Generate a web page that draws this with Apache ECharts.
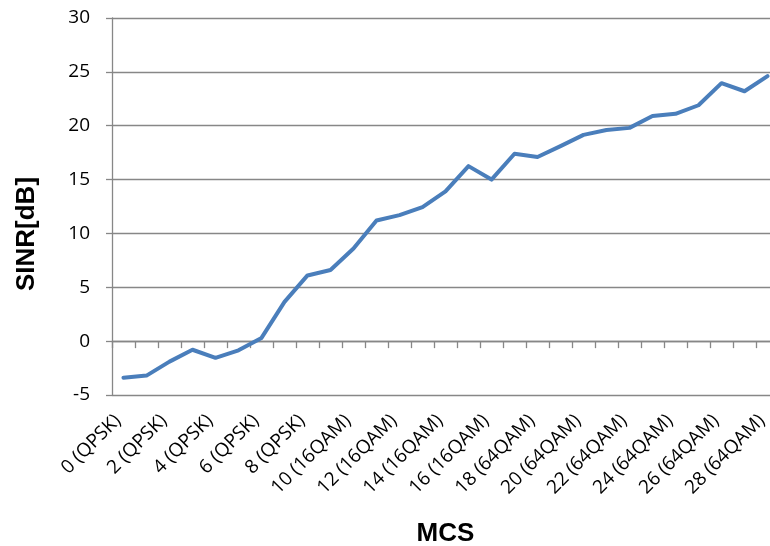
<!DOCTYPE html>
<html>
<head>
<meta charset="utf-8">
<title>SINR vs MCS</title>
<script src="https://cdn.jsdelivr.net/npm/echarts@6/dist/echarts.min.js"></script>
<style>
  html, body { margin: 0; padding: 0; background: #ffffff; }
  #chart { width: 770px; height: 546px; }
</style>
</head>
<body>
<div id="chart"></div>
<script>
// MCS index with modulation scheme
const mcsIndex = [0, 1, 2, 3, 4, 5, 6, 7, 8, 9, 10, 11, 12, 13, 14, 15, 16, 17, 18, 19, 20, 21, 22, 23, 24, 25, 26, 27, 28];
const modulation = ['QPSK', 'QPSK', 'QPSK', 'QPSK', 'QPSK', 'QPSK', 'QPSK', 'QPSK', 'QPSK', 'QPSK',
  '16QAM', '16QAM', '16QAM', '16QAM', '16QAM', '16QAM', '16QAM',
  '64QAM', '64QAM', '64QAM', '64QAM', '64QAM', '64QAM', '64QAM', '64QAM', '64QAM', '64QAM', '64QAM', '64QAM'];
const categories = mcsIndex.map((m, i) => m + ' (' + modulation[i] + ')');

// Required SINR per MCS [dB]
const sinr = [-3.4, -3.2, -1.9, -0.8, -1.55, -0.85, 0.3, 3.65, 6.1, 6.6,
  8.6, 11.2, 11.7, 12.45, 13.9, 16.25, 15.0, 17.4, 17.1, 18.1,
  19.15, 19.6, 19.8, 20.9, 21.1, 21.9, 23.95, 23.2, 24.6];

// Value axis ticks
const yMin = -5, yMax = 30, yStep = 5;

const gray = '#878787';
const labelFont = '"Open Sans", sans-serif';
const titleFont = '"Liberation Sans", Arial, sans-serif';

const chart = echarts.init(document.getElementById('chart'), null, { renderer: 'canvas' });

chart.setOption({
  animation: false,
  backgroundColor: '#ffffff',
  grid: { left: 112, top: 18, right: -9, bottom: 151, outerBoundsMode: 'none', containLabel: false },
  xAxis: [
    {
      // category labels and title, kept at the bottom of the plot
      type: 'category',
      data: categories,
      position: 'bottom',
      boundaryGap: true,
      axisLine: { show: false, onZero: false },
      axisTick: { show: false },
      splitLine: { show: false },
      axisLabel: {
        interval: 1,
        rotate: 45,
        margin: 17,
        padding: [0, 8, 0, 0],
        fontFamily: labelFont,
        fontSize: 19,
        color: '#000000'
      },
      name: 'MCS',
      nameLocation: 'middle',
      nameGap: 126,
      nameTextStyle: { fontFamily: titleFont, fontSize: 26, fontWeight: 'bold', color: '#000000' }
    },
    {
      // axis line with tick marks crossing at zero
      type: 'category',
      data: categories,
      position: 'bottom',
      boundaryGap: true,
      axisLine: { show: true, onZero: true, onZeroAxisIndex: 0, lineStyle: { color: gray, width: 1.3 } },
      axisTick: { show: true, interval: 0, length: 7, lineStyle: { color: gray, width: 1.3 } },
      axisLabel: { show: false },
      splitLine: { show: false }
    }
  ],
  yAxis: {
    type: 'value',
    min: yMin,
    max: yMax,
    interval: yStep,
    axisLine: { show: true, lineStyle: { color: gray, width: 1.3 } },
    axisTick: { show: true, length: 6, lineStyle: { color: gray, width: 1.3 } },
    splitLine: { show: true, lineStyle: { color: gray, width: 1.3 } },
    axisLabel: {
      margin: 22,
      fontFamily: labelFont,
      fontSize: 19,
      color: '#000000'
    }
  },
  graphic: [
    {
      // value axis title
      type: 'text',
      x: 27,
      y: 234,
      rotation: Math.PI / 2,
      style: {
        text: 'SINR[dB]',
        fontFamily: titleFont,
        fontSize: 26,
        fontWeight: 'bold',
        fill: '#000000',
        textAlign: 'center',
        textVerticalAlign: 'middle'
      }
    }
  ],
  series: [
    {
      type: 'line',
      xAxisIndex: 0,
      data: sinr,
      symbol: 'none',
      lineStyle: { color: '#4a7ebb', width: 4, join: 'round', cap: 'round' },
      itemStyle: { color: '#4a7ebb' }
    }
  ]
});
</script>
</body>
</html>
